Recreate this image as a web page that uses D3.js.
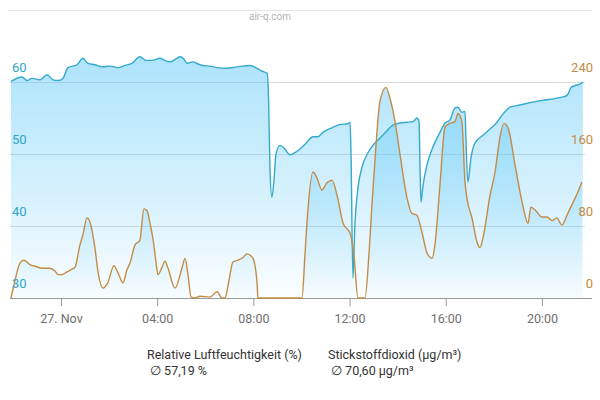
<!DOCTYPE html>
<html>
<head>
<meta charset="utf-8">
<script src="https://cdn.jsdelivr.net/npm/d3@7"></script>
<style>
  body { margin: 0; background: #fff; font-family: Roboto, "Noto Sans", sans-serif; }
  svg { display: block; }
</style>
</head>
<body>
<svg id="chart" width="600" height="400"></svg>
<script>
"use strict";

// hours relative to 27 Nov 00:00
const humHours = [-2.08, -1.62, -1.41, -1.21, -0.87, -0.58, -0.33, -0.12, 0.08, 0.29, 0.67, 0.91, 1.12, 1.41, 1.70,
    2.04, 2.37, 2.66, 2.95, 3.28, 3.53, 3.78, 4.12, 4.32, 4.53, 4.78, 4.95, 5.11, 5.24, 5.49, 5.70, 5.90, 6.20, 6.49,
    6.90, 7.32, 7.86, 8.15, 8.36, 8.57, 8.63, 8.69, 8.77, 8.86, 8.94, 9.11, 9.31, 9.52, 9.73, 9.94, 10.19, 10.48,
    10.69, 10.89, 11.31, 11.60, 11.93, 12.02, 12.06, 12.14, 12.22, 12.35, 12.52, 12.72, 12.97, 13.26, 13.55, 13.80,
    14.10, 14.39, 14.64, 14.80, 14.89, 14.93, 14.97, 15.05, 15.22, 15.47, 15.76, 15.97, 16.17, 16.38, 16.51, 16.67,
    16.80, 16.84, 16.92, 17.05, 17.21, 17.55, 17.92, 18.13, 18.34, 18.50, 18.67, 19.09, 19.58, 20.12, 20.54, 20.66,
    20.96, 21.08, 21.20, 21.37, 21.58, 21.70];
const humValues = [60.1, 60.7, 60.2, 60.5, 60.3, 61.0, 60.3, 60.2, 60.5, 62.0, 62.4, 63.3, 62.6, 62.4, 62.1,
    62.2, 62.0, 62.3, 62.6, 63.5, 63.0, 63.0, 63.3, 63.0, 62.8, 63.2, 63.5, 63.2, 62.6, 62.8, 62.5, 62.3, 62.2, 62.0,
    61.9, 62.1, 62.3, 61.9, 61.5, 61.2, 58.0, 48.0, 44.0, 46.5, 50.0, 51.2, 50.7, 49.9, 50.2, 50.7, 51.5, 52.4,
    52.4, 53.0, 53.7, 54.1, 54.2, 54.4, 50.0, 32.8, 40.0, 45.3, 48.2, 49.9, 51.2, 52.2, 53.2, 54.0,
    54.3, 54.4, 54.5, 55.0, 54.5, 48.0, 43.3, 45.5, 48.5, 51.0, 53.0, 54.3, 54.7, 56.4, 56.5, 55.8,
    55.9, 52.0, 46.1, 49.5, 51.5, 52.6, 53.7, 54.4, 55.4, 56.0, 56.5, 56.8, 57.2, 57.5, 57.7, 57.8,
    58.0, 58.3, 59.2, 59.5, 59.7, 60.0];

const no2Hours = [-2.08, -1.95, -1.70, -1.54, -1.29, -1.04, -0.79, -0.46, -0.25, -0.12, 0.04, 0.25, 0.46, 0.58, 0.79,
    0.91, 1.08, 1.21, 1.41, 1.54, 1.75, 1.95, 2.20, 2.37, 2.58, 2.74, 2.87, 3.08, 3.28, 3.45, 3.58, 3.70, 3.83, 3.95,
    4.03, 4.20, 4.32, 4.45, 4.74, 5.03, 5.16, 5.28, 5.41, 5.57, 5.78, 6.20, 6.49, 6.69, 6.82, 6.99, 7.15, 7.36, 7.57,
    7.73, 7.98, 8.15, 8.19, 9.94, 10.02, 10.15, 10.23, 10.48, 10.65, 10.85, 11.06, 11.27, 11.48, 11.73, 12.02, 12.18,
    12.35, 12.64, 12.81, 12.93, 13.10, 13.26, 13.51, 13.68, 13.89, 14.10, 14.39, 14.59, 14.80, 15.01, 15.22, 15.43,
    15.55, 15.76, 15.97, 16.17, 16.38, 16.51, 16.67, 16.80, 16.88, 17.09, 17.30, 17.42, 17.55, 17.84, 18.05, 18.25,
    18.42, 18.59, 18.88, 19.17, 19.42, 19.54, 19.71, 20.00, 20.21, 20.42, 20.62, 20.83, 21.04, 21.29, 21.50, 21.66];
const no2Values = [0, 15, 39, 42, 37, 35, 33, 33, 30, 26, 26, 29, 32, 34, 59,
    70, 89, 84, 56, 29, 11, 17, 36, 28, 17, 31, 39, 59, 64, 99, 97, 83, 65, 40,
    26, 34, 41, 33, 11, 33, 44, 26, 1, 0, 2, 1, 7, 0, 0, 20, 40, 42, 45,
    49, 44, 18, 0, 0, 0, 50, 84, 140, 133, 120, 128, 131, 114, 83, 72, 48,
    0, 0, 50, 103, 170, 218, 234, 222, 196, 159, 111, 94, 92, 73, 50, 44,
    59, 126, 190, 194, 196, 205, 196, 129, 111, 89, 62, 56, 67, 114, 140, 178,
    194, 189, 148, 107, 83, 101, 98, 90, 90, 86, 89, 81, 92, 106, 118, 129];

const humTicks = [30, 40, 50, 60];
const no2Ticks = [0, 80, 160, 240];
const timeTicks = [0, 4, 8, 12, 16, 20];
const timeLabels = ["27. Nov", "04:00", "08:00", "12:00", "16:00", "20:00"];
const legendNames = ["Relative Luftfeuchtigkeit (%)", "Stickstoffdioxid (µg/m³)"];
const legendAverages = ["∅ 57,19 %", "∅ 70,60 µg/m³"];

const HUM_COLOR = "#33a9cb";
const NO2_COLOR = "#c38b45";
const FILL = "79,195,247";

const base = new Date(2023, 10, 27, 0, 0);
const toDate = (h) => new Date(base.getTime() + h * 3600000);

const svg = d3.select("#chart");
const plotLeft = 10;
const plotRight = 585;
const plotTop = 82;
const plotBottom = 298;

const x = d3.scaleTime().domain([toDate(-2.12), toDate(21.79)]).range([plotLeft, plotRight]);
const yHum = d3.scaleLinear().domain([30, 60]).range([plotBottom, plotTop]);
const yNo2 = d3.scaleLinear().domain([0, 240]).range([plotBottom, plotTop]);

// header
svg.append("line").attr("x1", 8).attr("x2", 592).attr("y1", 10.5).attr("y2", 10.5)
    .attr("stroke", "#e4e4e4");
svg.append("text").attr("x", 270).attr("y", 20).attr("text-anchor", "middle")
    .attr("font-size", 10).attr("fill", "#b5b5b5").text("air-q.com");

// gradient
const grad = svg.append("defs").append("linearGradient").attr("id", "fade")
    .attr("gradientUnits", "userSpaceOnUse").attr("x1", 0).attr("x2", 0).attr("y1", 60).attr("y2", plotBottom);
grad.append("stop").attr("offset", 0).attr("stop-color", `rgba(${FILL},0.46)`);
grad.append("stop").attr("offset", 0.6).attr("stop-color", `rgba(${FILL},0.22)`);
grad.append("stop").attr("offset", 1).attr("stop-color", `rgba(${FILL},0.02)`);

// grid
svg.append("g").selectAll("line").data(humTicks.slice(1)).join("line")
    .attr("x1", plotLeft).attr("x2", plotRight)
    .attr("y1", (d) => Math.round(yHum(d)) + 0.5).attr("y2", (d) => Math.round(yHum(d)) + 0.5)
    .attr("stroke", "#dcdcdc");

const humData = humHours.map((h, i) => ({ t: toDate(h), v: humValues[i] }));
const no2Data = no2Hours.map((h, i) => ({ t: toDate(h), v: no2Values[i] }));

const humArea = d3.area().curve(d3.curveMonotoneX).x((d) => x(d.t)).y0(plotBottom).y1((d) => yHum(d.v));
const humLine = d3.line().curve(d3.curveMonotoneX).x((d) => x(d.t)).y((d) => yHum(d.v));
const no2Area = d3.area().curve(d3.curveMonotoneX).x((d) => x(d.t)).y0(plotBottom).y1((d) => yNo2(d.v));
const no2Line = d3.line().curve(d3.curveMonotoneX).x((d) => x(d.t)).y((d) => yNo2(d.v));

svg.append("path").datum(humData).attr("d", humArea).attr("fill", "url(#fade)");
svg.append("path").datum(no2Data).attr("d", no2Area).attr("fill", "url(#fade)");

// x axis
const xAxis = d3.axisBottom(x).tickValues(timeTicks.map(toDate)).tickSize(8).tickPadding(8)
    .tickFormat((d, i) => timeLabels[i]);
const gx = svg.append("g").attr("transform", `translate(0,${plotBottom})`).call(xAxis);
gx.select(".domain").attr("d", `M${plotLeft},0.5H592`).attr("stroke", "#999");
gx.selectAll(".tick line").attr("stroke", "#999");
gx.selectAll(".tick text").attr("font-size", 12.5).attr("fill", "#6f6f6f")
    .attr("font-family", "Roboto, sans-serif");

svg.append("path").datum(humData).attr("d", humLine).attr("fill", "none")
    .attr("stroke", HUM_COLOR).attr("stroke-width", 1.4);
svg.append("path").datum(no2Data).attr("d", no2Line).attr("fill", "none")
    .attr("stroke", NO2_COLOR).attr("stroke-width", 1.4);

// y labels
svg.append("g").selectAll("text").data(humTicks).join("text")
    .attr("x", 12).attr("y", (d) => yHum(d) - 10)
    .attr("font-size", 13).attr("fill", "#2fa6c8").text((d) => d);
svg.append("g").selectAll("text").data(no2Ticks).join("text")
    .attr("x", 593).attr("y", (d) => yNo2(d) - 10).attr("text-anchor", "end")
    .attr("font-size", 13).attr("fill", "#c38b45").text((d) => d);

// legend
const legendX = [147, 328];
const legend = svg.append("g").selectAll("g").data(legendNames).join("g")
    .attr("transform", (d, i) => `translate(${legendX[i]},0)`);
legend.append("text").attr("y", 359).attr("font-size", 12.5).attr("fill", "#333").text((d) => d);
legend.append("text").attr("x", 3).attr("y", 375).attr("font-size", 12.5).attr("fill", "#333")
    .text((d, i) => legendAverages[i]);
</script>
</body>
</html>
